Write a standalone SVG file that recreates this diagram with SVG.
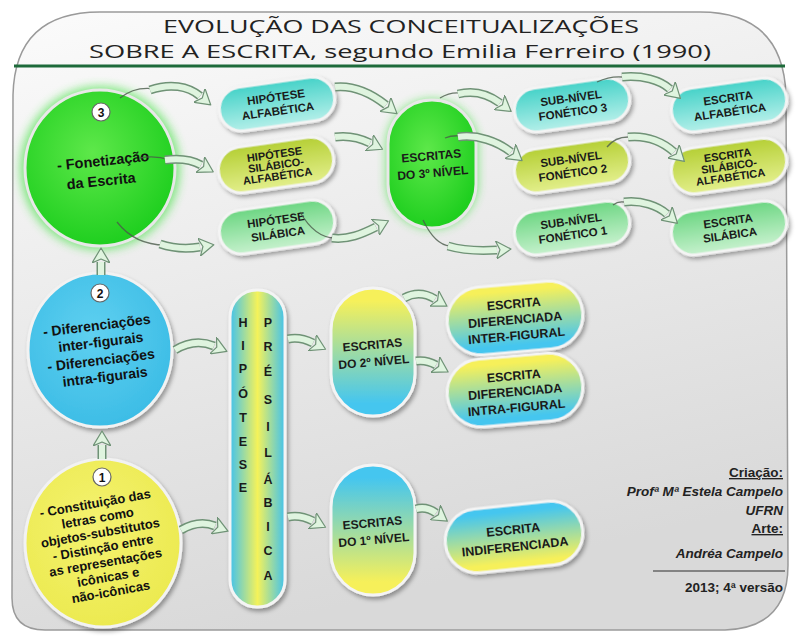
<svg xmlns="http://www.w3.org/2000/svg" width="797" height="636" viewBox="0 0 797 636">
<defs>
<style>
.lbl{font-family:"Liberation Sans",Arial,sans-serif;font-weight:bold;fill:#1a1a1a;text-anchor:middle}
.ct{font-family:"Liberation Sans",Arial,sans-serif;font-weight:bold;fill:#111;text-anchor:middle}
.title{font-family:"Open Sans","DejaVu Sans",sans-serif;font-size:19px;fill:#222;text-anchor:middle}
.cred{font-family:"Liberation Sans",Arial,sans-serif;font-weight:bold;fill:#222;text-anchor:end;font-size:13.5px}
.ao{fill:none;stroke:#6f9276;stroke-width:9;stroke-linecap:butt}
.ai{fill:none;stroke:#dff4df;stroke-width:6;stroke-linecap:butt}
.thin{fill:none;stroke:#4a5a4a;stroke-width:1.3;opacity:.8}
.pill{stroke:#f4f4f4;stroke-width:3;filter:url(#sh)}
.badge{fill:#fff;stroke:#666;stroke-width:1.2}
</style>
<filter id="sh" x="-20%" y="-20%" width="150%" height="160%"><feDropShadow dx="2" dy="3" stdDeviation="2" flood-color="#000" flood-opacity=".35"/></filter>
<filter id="glow" x="-30%" y="-30%" width="160%" height="160%"><feGaussianBlur stdDeviation="5"/></filter>
<linearGradient id="bg" x1="0" y1="0" x2="0.3" y2="1"><stop offset="0" stop-color="#fbfbfb"/><stop offset="1" stop-color="#d9d9d9"/></linearGradient>
<linearGradient id="gCy" x1="0" y1="0" x2="0" y2="1"><stop offset="0" stop-color="#45d2c8"/><stop offset="1" stop-color="#b4efe9"/></linearGradient>
<linearGradient id="gYg" x1="0" y1="0" x2="0" y2="1"><stop offset="0" stop-color="#b5cf35"/><stop offset="1" stop-color="#e3ef8c"/></linearGradient>
<linearGradient id="gLg" x1="0" y1="0" x2="0" y2="1"><stop offset="0" stop-color="#6cd682"/><stop offset="1" stop-color="#c6f1cd"/></linearGradient>
<radialGradient id="gGreen" cx="0.45" cy="0.4" r="0.6"><stop offset="0" stop-color="#5ee84a"/><stop offset="1" stop-color="#1fcf1f"/></radialGradient>
<radialGradient id="gBlue" cx="0.45" cy="0.4" r="0.6"><stop offset="0" stop-color="#5fd0f0"/><stop offset="1" stop-color="#3dbde6"/></radialGradient>
<radialGradient id="gYel" cx="0.45" cy="0.4" r="0.6"><stop offset="0" stop-color="#f4f270"/><stop offset="1" stop-color="#ecea50"/></radialGradient>
<linearGradient id="gYC" x1="0" y1="0" x2="0" y2="1"><stop offset="0.1" stop-color="#f6f05a"/><stop offset="0.9" stop-color="#45c6ef"/></linearGradient>
<linearGradient id="gCY" x1="0" y1="0" x2="0" y2="1"><stop offset="0.1" stop-color="#45c6ef"/><stop offset="0.9" stop-color="#f6f05a"/></linearGradient>
<linearGradient id="gPre" x1="0" y1="0" x2="1" y2="0"><stop offset="0" stop-color="#42c2ec"/><stop offset="0.5" stop-color="#f4f25a"/><stop offset="1" stop-color="#42c2ec"/></linearGradient>
<marker id="ah" markerUnits="userSpaceOnUse" markerWidth="16" markerHeight="18" viewBox="0 0 16 18" refX="1" refY="9" orient="auto"><path d="M0,0 L15,9 L0,18 L4,9 Z" fill="#dff4df" stroke="#6f9276" stroke-width="1.2" stroke-linejoin="round"/></marker>
</defs>

<rect width="797" height="636" fill="#ffffff"/>
<path d="M13,95 Q15,12 100,12 L700,12 Q783,12 786,95 L788,565 Q788,628 725,630 L45,630 Q12,630 12,598 Z" fill="url(#bg)" stroke="#9a9a9a" stroke-width="1.5"/>

<g id="title">
<text class="title" x="401" y="33" textLength="476" lengthAdjust="spacingAndGlyphs">EVOLUÇÃO DAS CONCEITUALIZAÇÕES</text>
<text class="title" x="400" y="58" textLength="622" lengthAdjust="spacingAndGlyphs">SOBRE A ESCRITA, segundo Emilia Ferreiro (1990)</text>
<line x1="14" y1="66" x2="785" y2="66" stroke="#1d6a3a" stroke-width="3"/>
</g>

<g id="circle3">
<ellipse cx="100" cy="168" rx="80" ry="82" fill="#35e035" opacity=".6" filter="url(#glow)"/>
<ellipse cx="100" cy="168" rx="75" ry="78" fill="url(#gGreen)" stroke="#e8e8e8" stroke-width="3"/>
<circle class="badge" cx="101" cy="112" r="9"/><text class="ct" x="101" y="116.5" font-size="12">3</text>
<g transform="rotate(-6 100 170)"><text class="ct" x="104" y="166" font-size="14.5">- Fonetização</text><text class="ct" x="100" y="186" font-size="14.5">da Escrita</text></g>
</g>

<g id="circle2">
<ellipse cx="100" cy="350" rx="72" ry="77" fill="url(#gBlue)" stroke="#f2f2f2" stroke-width="3" filter="url(#sh)"/>
<circle class="badge" cx="100" cy="293" r="9"/><text class="ct" x="100" y="297.5" font-size="12">2</text>
<g transform="rotate(-7 100 352)"><text class="ct" x="100" y="330" font-size="14">- Diferenciações</text><text class="ct" x="102" y="347" font-size="14">inter-figurais</text><text class="ct" x="100" y="365" font-size="14">- Diferenciações</text><text class="ct" x="102" y="382" font-size="14">intra-figurais</text></g>
</g>

<g id="circle1">
<ellipse cx="103" cy="543" rx="78" ry="84" fill="url(#gYel)" stroke="#f2f2f2" stroke-width="3" filter="url(#sh)"/>
<circle class="badge" cx="102" cy="477" r="9"/><text class="ct" x="102" y="481.5" font-size="12">1</text>
<g transform="rotate(-10 103 548)"><text class="ct" x="103" y="507" font-size="13">- Constituição das</text><text class="ct" x="103" y="522" font-size="13">letras como</text><text class="ct" x="103" y="537" font-size="13">objetos-substitutos</text><text class="ct" x="103" y="552" font-size="13">- Distinção entre</text><text class="ct" x="103" y="567" font-size="13">as representações</text><text class="ct" x="103" y="582" font-size="13">icônicas e</text><text class="ct" x="103" y="597" font-size="13">não-icônicas</text></g>
</g>

<g id="hip-alfabetica" transform="translate(277 104) rotate(-8)"><rect class="pill" x="-58" y="-22" width="116" height="44" rx="22" fill="url(#gCy)"/><text class="lbl" font-size="11.5" y="-3">HIPÓTESE</text><text class="lbl" font-size="11.5" y="11">ALFABÉTICA</text></g>
<g id="hip-silabico-alfabetica" transform="translate(276 165) rotate(-8)"><rect class="pill" x="-58" y="-23" width="116" height="46" rx="23" fill="url(#gYg)"/><text class="lbl" font-size="11" y="-7">HIPÓTESE</text><text class="lbl" font-size="11" y="4">SILÁBICO-</text><text class="lbl" font-size="11" y="15">ALFABÉTICA</text></g>
<g id="hip-silabica" transform="translate(277 227) rotate(-8)"><rect class="pill" x="-58" y="-22" width="116" height="44" rx="22" fill="url(#gLg)"/><text class="lbl" font-size="11.5" y="-3">HIPÓTESE</text><text class="lbl" font-size="11.5" y="11">SILÁBICA</text></g>

<g id="escritas-3">
<rect x="386" y="99" width="92" height="130" rx="46" fill="#35e035" opacity=".6" filter="url(#glow)"/>
<rect x="388" y="100" width="88" height="128" rx="44" fill="url(#gGreen)" stroke="#e8e8e8" stroke-width="3"/>
<g transform="rotate(-5 432 164)"><text class="lbl" font-size="12" x="432" y="160">ESCRITAS</text><text class="lbl" font-size="12" x="432" y="177">DO 3º NÍVEL</text></g>
</g>

<g id="sub-nivel-3" transform="translate(572 105) rotate(-8)"><rect class="pill" x="-58" y="-22" width="116" height="44" rx="22" fill="url(#gCy)"/><text class="lbl" font-size="11.5" y="-3">SUB-NÍVEL</text><text class="lbl" font-size="11.5" y="11">FONÉTICO 3</text></g>
<g id="sub-nivel-2" transform="translate(572 166) rotate(-8)"><rect class="pill" x="-58" y="-22" width="116" height="44" rx="22" fill="url(#gYg)"/><text class="lbl" font-size="11.5" y="-3">SUB-NÍVEL</text><text class="lbl" font-size="11.5" y="11">FONÉTICO 2</text></g>
<g id="sub-nivel-1" transform="translate(572 228) rotate(-8)"><rect class="pill" x="-58" y="-22" width="116" height="44" rx="22" fill="url(#gLg)"/><text class="lbl" font-size="11.5" y="-3">SUB-NÍVEL</text><text class="lbl" font-size="11.5" y="11">FONÉTICO 1</text></g>

<g id="escrita-alfabetica" transform="translate(729 105) rotate(-8)"><rect class="pill" x="-58" y="-22" width="116" height="44" rx="22" fill="url(#gCy)"/><text class="lbl" font-size="11.5" y="-3">ESCRITA</text><text class="lbl" font-size="11.5" y="11">ALFABÉTICA</text></g>
<g id="escrita-silabico-alfabetica" transform="translate(729 166) rotate(-8)"><rect class="pill" x="-58" y="-23" width="116" height="46" rx="23" fill="url(#gYg)"/><text class="lbl" font-size="11" y="-7">ESCRITA</text><text class="lbl" font-size="11" y="4">SILÁBICO-</text><text class="lbl" font-size="11" y="15">ALFABÉTICA</text></g>
<g id="escrita-silabica" transform="translate(729 228) rotate(-8)"><rect class="pill" x="-58" y="-22" width="116" height="44" rx="22" fill="url(#gLg)"/><text class="lbl" font-size="11.5" y="-3">ESCRITA</text><text class="lbl" font-size="11.5" y="11">SILÁBICA</text></g>

<g id="pre-silabica">
<rect class="pill" x="230" y="290" width="55" height="317" rx="27" fill="url(#gPre)"/>
<g class="lbl" font-size="12.5">
<text x="243" y="327">H</text><text x="243" y="350">I</text><text x="243" y="373">P</text><text x="243" y="398">Ó</text><text x="243" y="422">T</text><text x="243" y="446">E</text><text x="243" y="469">S</text><text x="243" y="492">E</text>
<text x="268" y="327">P</text><text x="268" y="351">R</text><text x="268" y="376">É</text><text x="268" y="404">S</text><text x="268" y="431">I</text><text x="268" y="457">L</text><text x="268" y="484">Á</text><text x="268" y="507">B</text><text x="268" y="531">I</text><text x="268" y="555">C</text><text x="268" y="580">A</text>
</g>
</g>

<g id="escritas-2"><rect class="pill" x="331" y="288" width="84" height="128" rx="42" fill="url(#gYC)"/><g transform="rotate(-5 373 352)"><text class="lbl" font-size="12" x="373" y="349">ESCRITAS</text><text class="lbl" font-size="12" x="373" y="366">DO 2º NÍVEL</text></g></g>
<g id="inter-figural" transform="translate(515 318) rotate(-5)"><rect class="pill" x="-68" y="-34" width="136" height="68" rx="34" fill="url(#gYC)"/><text class="lbl" font-size="12.5" y="-10">ESCRITA</text><text class="lbl" font-size="12.5" y="6">DIFERENCIADA</text><text class="lbl" font-size="12.5" y="22">INTER-FIGURAL</text></g>
<g id="intra-figural" transform="translate(515 390) rotate(-5)"><rect class="pill" x="-68" y="-34" width="136" height="68" rx="34" fill="url(#gYC)"/><text class="lbl" font-size="12.5" y="-10">ESCRITA</text><text class="lbl" font-size="12.5" y="6">DIFERENCIADA</text><text class="lbl" font-size="12.5" y="22">INTRA-FIGURAL</text></g>

<g id="escritas-1"><rect class="pill" x="331" y="465" width="84" height="130" rx="42" fill="url(#gCY)"/><g transform="rotate(-5 373 530)"><text class="lbl" font-size="12" x="373" y="527">ESCRITAS</text><text class="lbl" font-size="12" x="373" y="544">DO 1º NÍVEL</text></g></g>
<g id="indiferenciada" transform="translate(514 537) rotate(-6)"><rect class="pill" x="-69" y="-32" width="138" height="64" rx="32" fill="url(#gCY)"/><text class="lbl" font-size="12.5" y="-3">ESCRITA</text><text class="lbl" font-size="12.5" y="14">INDIFERENCIADA</text></g>

<g id="connectors">
<path class="thin" d="M120,98 Q135,86 155,89"/>
<path class="thin" d="M140,158 Q155,155 170,160"/>
<path class="thin" d="M117,222 Q135,245 165,245"/>
<path class="thin" d="M300,212 Q315,238 335,238"/>
<path class="thin" d="M440,98 Q450,92 460,93"/>
<path class="thin" d="M445,138 Q452,135 462,136"/>
<path class="thin" d="M423,220 Q435,245 450,246"/>
<path class="thin" d="M597,82 Q610,76 622,77"/>
<path class="thin" d="M607,147 Q615,137 628,137"/>
<path class="thin" d="M613,205 Q618,201 624,202"/>
<path class="ao" d="M150,90 C170,83 188,86 200,96"/><path class="ai" d="M150,90 C170,83 188,86 200,96" marker-end="url(#ah)"/>
<path class="ao" d="M165,160 C180,158 192,160 201,165"/><path class="ai" d="M165,160 C180,158 192,160 201,165" marker-end="url(#ah)"/>
<path class="ao" d="M160,244 C175,249 188,249 200,247"/><path class="ai" d="M160,244 C175,249 188,249 200,247" marker-end="url(#ah)"/>
<path class="ao" d="M335,87 C355,85 372,94 386,105"/><path class="ai" d="M335,87 C355,85 372,94 386,105" marker-end="url(#ah)"/>
<path class="ao" d="M335,137 C350,135 360,138 370,143"/><path class="ai" d="M335,137 C350,135 360,138 370,143" marker-end="url(#ah)"/>
<path class="ao" d="M332,238 C348,240 362,234 376,227"/><path class="ai" d="M332,238 C348,240 362,234 376,227" marker-end="url(#ah)"/>
<path class="ao" d="M458,94 C474,90 488,94 500,103"/><path class="ai" d="M458,94 C474,90 488,94 500,103" marker-end="url(#ah)"/>
<path class="ao" d="M458,137 C478,134 498,142 511,152"/><path class="ai" d="M458,137 C478,134 498,142 511,152" marker-end="url(#ah)"/>
<path class="ao" d="M448,246 C465,251 482,251 497,250"/><path class="ai" d="M448,246 C465,251 482,251 497,250" marker-end="url(#ah)"/>
<path class="ao" d="M622,77 C642,75 660,80 670,89"/><path class="ai" d="M622,77 C642,75 660,80 670,89" marker-end="url(#ah)"/>
<path class="ao" d="M628,137 C648,135 664,143 674,152"/><path class="ai" d="M628,137 C648,135 664,143 674,152" marker-end="url(#ah)"/>
<path class="ao" d="M624,202 C642,200 658,206 667,214"/><path class="ai" d="M624,202 C642,200 658,206 667,214" marker-end="url(#ah)"/>
<path class="ao" d="M175,350 C188,342 202,341 214,346"/><path class="ai" d="M175,350 C188,342 202,341 214,346" marker-end="url(#ah)"/>
<path class="ao" d="M288,339 C297,337 305,339 313,343"/><path class="ai" d="M288,339 C297,337 305,339 313,343" marker-end="url(#ah)"/>
<path class="ao" d="M404,298 C415,292 425,293 435,299"/><path class="ai" d="M404,298 C415,292 425,293 435,299" marker-end="url(#ah)"/>
<path class="ao" d="M416,361 C423,360 429,361 436,365"/><path class="ai" d="M416,361 C423,360 429,361 436,365" marker-end="url(#ah)"/>
<path class="ao" d="M181,530 C193,523 205,522 215,526"/><path class="ai" d="M181,530 C193,523 205,522 215,526" marker-end="url(#ah)"/>
<path class="ao" d="M288,517 C297,515 305,517 313,521"/><path class="ai" d="M288,517 C297,515 305,517 313,521" marker-end="url(#ah)"/>
<path class="ao" d="M416,509 C423,507 429,508 436,513"/><path class="ai" d="M416,509 C423,507 429,508 436,513" marker-end="url(#ah)"/>
<path class="ao" d="M102,459 L102,445"/><path class="ai" d="M102,459 L102,445" marker-end="url(#ah)"/>
<path class="ao" d="M101,275 L101,262"/><path class="ai" d="M101,275 L101,262" marker-end="url(#ah)"/>
</g>

<g id="credits">
<text class="cred" x="783" y="477" text-decoration="underline">Criação:</text>
<text class="cred" x="783" y="496" font-style="italic">Profª Mª Estela Campelo</text>
<text class="cred" x="783" y="515" font-style="italic">UFRN</text>
<text class="cred" x="783" y="533" text-decoration="underline">Arte:</text>
<text class="cred" x="783" y="558" font-style="italic">Andréa Campelo</text>
<line x1="653" y1="571" x2="785" y2="571" stroke="#666" stroke-width="1.5"/>
<text class="cred" x="783" y="592" font-size="15.5">2013; 4ª versão</text>
</g>
</svg>
